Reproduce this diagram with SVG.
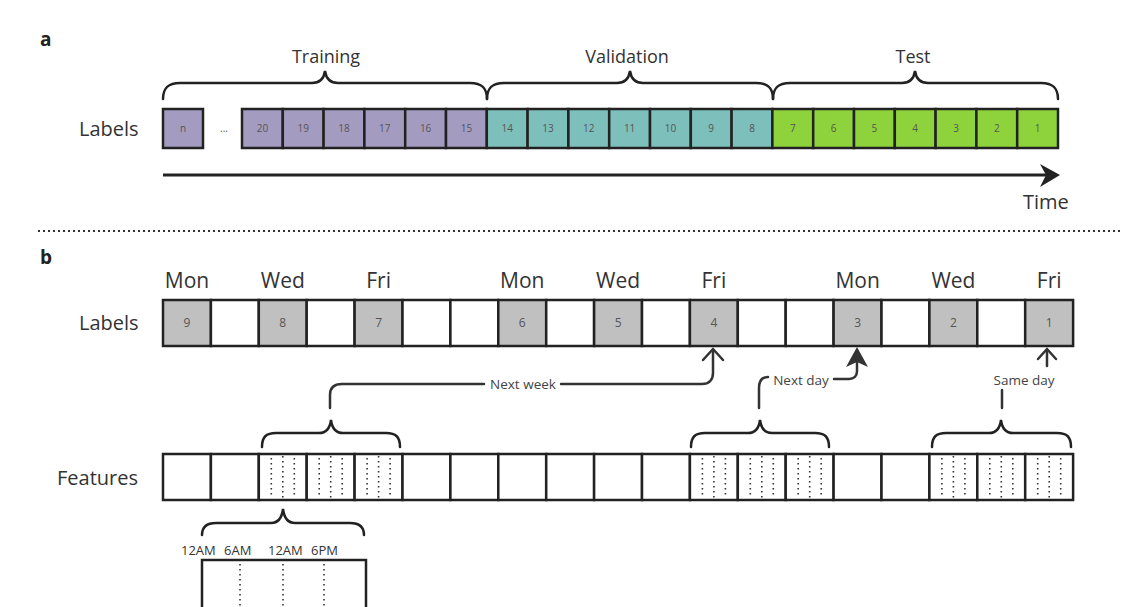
<svg xmlns="http://www.w3.org/2000/svg" width="1143" height="607" viewBox="0 0 1143 607">
<style>
text{font-family:"Open Sans","Noto Sans","DejaVu Sans",sans-serif;fill:#333}
.big{font-size:20px}
.ttl{font-size:18px;text-anchor:middle}
.day{font-size:21px;text-anchor:middle}
.num{font-size:10px;fill:#555;text-anchor:middle}
.numb{font-size:12px;fill:#555;text-anchor:middle}
.lbl{font-size:13.5px;fill:#444;text-anchor:middle}
.tm{font-size:13px;fill:#333}
.bold{font-size:19px;font-weight:bold;fill:#222}
.c{stroke:#222;stroke-width:2.5}
.p{fill:#a49bc1}.t{fill:#7dbfbb}.g{fill:#8fd33c}.gr{fill:#c0c0c0}.w{fill:#fff}
.br{fill:none;stroke:#222;stroke-width:2.5;stroke-linecap:round}
.ln{fill:none;stroke:#333;stroke-width:2.5;stroke-linecap:round}
.dt{stroke:#333;stroke-width:1.6;stroke-dasharray:1.5 3.5}
</style>
<defs>
<g id="hatch">
<line class="dt" x1="12.5" y1="458" x2="12.5" y2="498"/>
<line class="dt" x1="24" y1="456" x2="24" y2="498"/>
<line class="dt" x1="35.5" y1="458" x2="35.5" y2="498"/>
</g>
</defs>
<text class="bold" x="40" y="46">a</text>
<text class="bold" x="40" y="264">b</text>
<text class="big" x="79" y="136">Labels</text>
<g id="a-brackets">
<path class="br" d="M163,99 C163,88 168,83 180,83 H312 C320,83 324,78 325,71 C326,78 330,83 338,83 H470 C482,83 487,88 487,99"/>
<path class="br" d="M487,99 C487,88 492,83 504,83 H617 C625,83 629,78 630,71 C631,78 635,83 643,83 H756 C768,83 773,88 773,99"/>
<path class="br" d="M773,99 C773,88 778,83 790,83 H902 C910,83 914,78 915,71 C916,78 920,83 928,83 H1041 C1053,83 1058,88 1058,99"/>
<text class="ttl" x="326" y="63">Training</text>
<text class="ttl" x="627" y="63">Validation</text>
<text class="ttl" x="913" y="63">Test</text>
</g>
<g id="a-labels">
<g id="a-n"><rect class="c p" x="163" y="109" width="40" height="39"/><text class="num" x="183" y="132">n</text></g>
<text x="224" y="132" style="font-size:10px;fill:#555;text-anchor:middle">...</text>
<g id="a20"><rect class="c p" x="242" y="109" width="40.8" height="39"/><text class="num" x="262.4" y="132">20</text></g>
<g id="a19"><rect class="c p" x="282.8" y="109" width="40.8" height="39"/><text class="num" x="303.2" y="132">19</text></g>
<g id="a18"><rect class="c p" x="323.6" y="109" width="40.8" height="39"/><text class="num" x="344" y="132">18</text></g>
<g id="a17"><rect class="c p" x="364.4" y="109" width="40.8" height="39"/><text class="num" x="384.8" y="132">17</text></g>
<g id="a16"><rect class="c p" x="405.2" y="109" width="40.8" height="39"/><text class="num" x="425.6" y="132">16</text></g>
<g id="a15"><rect class="c p" x="446" y="109" width="40.8" height="39"/><text class="num" x="466.4" y="132">15</text></g>
<g id="a14"><rect class="c t" x="486.8" y="109" width="40.8" height="39"/><text class="num" x="507.2" y="132">14</text></g>
<g id="a13"><rect class="c t" x="527.6" y="109" width="40.8" height="39"/><text class="num" x="548" y="132">13</text></g>
<g id="a12"><rect class="c t" x="568.4" y="109" width="40.8" height="39"/><text class="num" x="588.8" y="132">12</text></g>
<g id="a11"><rect class="c t" x="609.2" y="109" width="40.8" height="39"/><text class="num" x="629.6" y="132">11</text></g>
<g id="a10"><rect class="c t" x="650" y="109" width="40.8" height="39"/><text class="num" x="670.4" y="132">10</text></g>
<g id="a9"><rect class="c t" x="690.8" y="109" width="40.8" height="39"/><text class="num" x="711.2" y="132">9</text></g>
<g id="a8"><rect class="c t" x="731.6" y="109" width="40.8" height="39"/><text class="num" x="752" y="132">8</text></g>
<g id="a7"><rect class="c g" x="772.4" y="109" width="40.8" height="39"/><text class="num" x="792.8" y="132">7</text></g>
<g id="a6"><rect class="c g" x="813.2" y="109" width="40.8" height="39"/><text class="num" x="833.6" y="132">6</text></g>
<g id="a5"><rect class="c g" x="854" y="109" width="40.8" height="39"/><text class="num" x="874.4" y="132">5</text></g>
<g id="a4"><rect class="c g" x="894.8" y="109" width="40.8" height="39"/><text class="num" x="915.2" y="132">4</text></g>
<g id="a3"><rect class="c g" x="935.6" y="109" width="40.8" height="39"/><text class="num" x="956" y="132">3</text></g>
<g id="a2"><rect class="c g" x="976.4" y="109" width="40.8" height="39"/><text class="num" x="996.8" y="132">2</text></g>
<g id="a1"><rect class="c g" x="1017.2" y="109" width="40.8" height="39"/><text class="num" x="1037.6" y="132">1</text></g>
</g>
<g id="time-axis">
<line x1="163" y1="175" x2="1046" y2="175" stroke="#222" stroke-width="3"/>
<path d="M1060,175 L1040,164 L1046,175 L1040,187 Z" fill="#222"/>
<text class="big" x="1023" y="209">Time</text>
</g>
<line x1="38" y1="231" x2="1122" y2="231" stroke="#333" stroke-width="2" stroke-dasharray="2 3"/>
<g id="days">
<text class="day" x="187" y="288">Mon</text>
<text class="day" x="282.8" y="288">Wed</text>
<text class="day" x="378.6" y="288">Fri</text>
<text class="day" x="522.3" y="288">Mon</text>
<text class="day" x="618.1" y="288">Wed</text>
<text class="day" x="713.9" y="288">Fri</text>
<text class="day" x="857.6" y="288">Mon</text>
<text class="day" x="953.4" y="288">Wed</text>
<text class="day" x="1049.2" y="288">Fri</text>
</g>
<text class="big" x="79" y="330">Labels</text>
<g id="b-labels">
<g id="b9"><rect class="c gr" x="163" y="300" width="47.9" height="46"/><text class="numb" x="187" y="327">9</text></g>
<g id="bl1"><rect class="c w" x="210.9" y="300" width="47.9" height="46"/></g>
<g id="b8"><rect class="c gr" x="258.8" y="300" width="47.9" height="46"/><text class="numb" x="282.8" y="327">8</text></g>
<g id="bl3"><rect class="c w" x="306.7" y="300" width="47.9" height="46"/></g>
<g id="b7"><rect class="c gr" x="354.6" y="300" width="47.9" height="46"/><text class="numb" x="378.6" y="327">7</text></g>
<g id="bl5"><rect class="c w" x="402.5" y="300" width="47.9" height="46"/></g>
<g id="bl6"><rect class="c w" x="450.4" y="300" width="47.9" height="46"/></g>
<g id="b6"><rect class="c gr" x="498.3" y="300" width="47.9" height="46"/><text class="numb" x="522.3" y="327">6</text></g>
<g id="bl8"><rect class="c w" x="546.2" y="300" width="47.9" height="46"/></g>
<g id="b5"><rect class="c gr" x="594.1" y="300" width="47.9" height="46"/><text class="numb" x="618.1" y="327">5</text></g>
<g id="bl10"><rect class="c w" x="642" y="300" width="47.9" height="46"/></g>
<g id="b4"><rect class="c gr" x="689.9" y="300" width="47.9" height="46"/><text class="numb" x="713.9" y="327">4</text></g>
<g id="bl12"><rect class="c w" x="737.8" y="300" width="47.9" height="46"/></g>
<g id="bl13"><rect class="c w" x="785.7" y="300" width="47.9" height="46"/></g>
<g id="b3"><rect class="c gr" x="833.6" y="300" width="47.9" height="46"/><text class="numb" x="857.6" y="327">3</text></g>
<g id="bl15"><rect class="c w" x="881.5" y="300" width="47.9" height="46"/></g>
<g id="b2"><rect class="c gr" x="929.4" y="300" width="47.9" height="46"/><text class="numb" x="953.4" y="327">2</text></g>
<g id="bl17"><rect class="c w" x="977.3" y="300" width="47.9" height="46"/></g>
<g id="b1"><rect class="c gr" x="1025.2" y="300" width="47.9" height="46"/><text class="numb" x="1049.2" y="327">1</text></g>
</g>
<text class="big" x="57" y="485">Features</text>
<g id="b-features">
<g id="f0"><rect class="c w" x="163" y="454" width="47.9" height="46"/></g>
<g id="f1"><rect class="c w" x="210.9" y="454" width="47.9" height="46"/></g>
<g id="f2"><rect class="c w" x="258.8" y="454" width="47.9" height="46"/><use href="#hatch" x="258.8"/></g>
<g id="f3"><rect class="c w" x="306.7" y="454" width="47.9" height="46"/><use href="#hatch" x="306.7"/></g>
<g id="f4"><rect class="c w" x="354.6" y="454" width="47.9" height="46"/><use href="#hatch" x="354.6"/></g>
<g id="f5"><rect class="c w" x="402.5" y="454" width="47.9" height="46"/></g>
<g id="f6"><rect class="c w" x="450.4" y="454" width="47.9" height="46"/></g>
<g id="f7"><rect class="c w" x="498.3" y="454" width="47.9" height="46"/></g>
<g id="f8"><rect class="c w" x="546.2" y="454" width="47.9" height="46"/></g>
<g id="f9"><rect class="c w" x="594.1" y="454" width="47.9" height="46"/></g>
<g id="f10"><rect class="c w" x="642" y="454" width="47.9" height="46"/></g>
<g id="f11"><rect class="c w" x="689.9" y="454" width="47.9" height="46"/><use href="#hatch" x="689.9"/></g>
<g id="f12"><rect class="c w" x="737.8" y="454" width="47.9" height="46"/><use href="#hatch" x="737.8"/></g>
<g id="f13"><rect class="c w" x="785.7" y="454" width="47.9" height="46"/><use href="#hatch" x="785.7"/></g>
<g id="f14"><rect class="c w" x="833.6" y="454" width="47.9" height="46"/></g>
<g id="f15"><rect class="c w" x="881.5" y="454" width="47.9" height="46"/></g>
<g id="f16"><rect class="c w" x="929.4" y="454" width="47.9" height="46"/><use href="#hatch" x="929.4"/></g>
<g id="f17"><rect class="c w" x="977.3" y="454" width="47.9" height="46"/><use href="#hatch" x="977.3"/></g>
<g id="f18"><rect class="c w" x="1025.2" y="454" width="47.9" height="46"/><use href="#hatch" x="1025.2"/></g>
</g>
<g id="b-brackets">
<path class="br" d="M262,447 C262,437 266,433 276,433 H319 C327,433 330,428 331,420 C332,428 335,433 343,433 H386 C396,433 400,437 400,447"/>
<path class="br" d="M691,447 C691,437 695,433 705,433 H748 C756,433 759,428 760,420 C761,428 764,433 772,433 H815 C825,433 829,437 829,447"/>
<path class="br" d="M932,447 C932,437 936,433 946,433 H989 C997,433 1000,428 1001,420 C1002,428 1005,433 1013,433 H1057 C1067,433 1071,437 1071,447"/>
<path class="br" d="M202,535 C202,527 206,523 216,523 H271 C279,523 282,517 283,509 C284,517 287,523 295,523 H350 C360,523 364,527 364,535"/>
</g>
<g id="connectors">
<path class="ln" d="M330,408 V395 C330,388 334,384 342,384 H484"/>
<path class="ln" d="M561,384 H702 C709,384 713,380 713,373 V350"/>
<path class="ln" d="M703,360 L713,349 L723,360"/>
<text class="lbl" x="523" y="389">Next week</text>
<path class="ln" d="M759,408 V388 C759,381 762,377 768,377"/>
<text class="lbl" x="801" y="385">Next day</text>
<path class="ln" d="M834,379 H849 C854,379 857,376 857,371 V362"/>
<path d="M857,347 L868,367 L857,362 L846,367 Z" fill="#333"/>
<path class="ln" d="M1002,408 V390"/>
<text class="lbl" x="1024" y="385">Same day</text>
<path class="ln" d="M1047,366 V350"/>
<path class="ln" d="M1038,359 L1047,349 L1056,359"/>
</g>
<g id="day-detail">
<text class="tm" x="181" y="555">12AM</text>
<text class="tm" x="224" y="555">6AM</text>
<text class="tm" x="268" y="555">12AM</text>
<text class="tm" x="311" y="555">6PM</text>
<rect class="c w" x="202" y="560" width="164" height="60"/>
<line class="dt" x1="240" y1="564" x2="240" y2="607"/>
<line class="dt" x1="283" y1="564" x2="283" y2="607"/>
<line class="dt" x1="324" y1="564" x2="324" y2="607"/>
</g>
</svg>
